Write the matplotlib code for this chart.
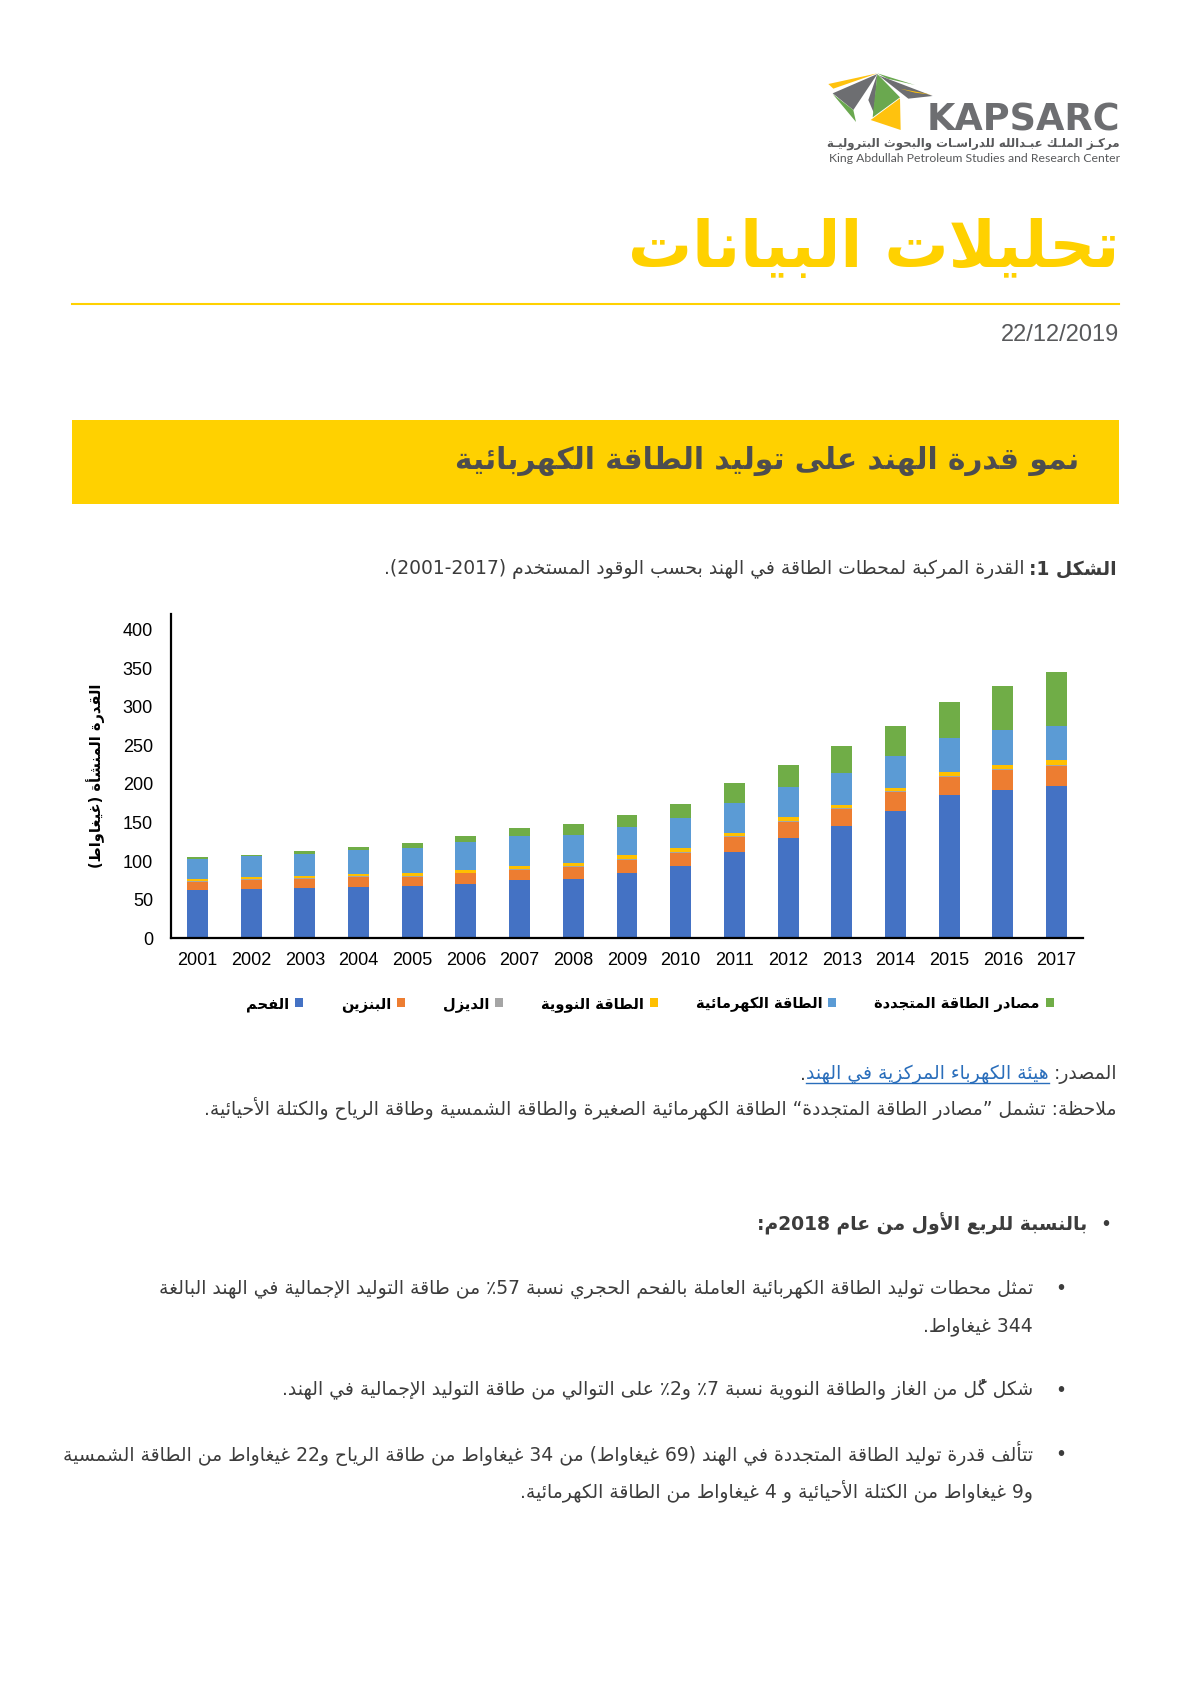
import matplotlib
matplotlib.use('Agg')
import matplotlib.pyplot as plt
from matplotlib.patches import Rectangle, Polygon
from matplotlib.lines import Line2D
import numpy as np

# ---- data (GW installed capacity, India) ----
years = ['2001', '2002', '2003', '2004', '2005', '2006', '2007', '2008', '2009',
         '2010', '2011', '2012', '2013', '2014', '2015', '2016', '2017']
coal = [62, 64, 65, 67, 68, 70, 75, 77, 84, 93, 112, 130, 145, 165, 185, 192, 197]
petrol = [11, 12, 12, 12, 12, 14, 14, 15, 18, 18, 19, 21, 22, 24, 24, 26, 26]
diesel = [1.2, 1.2, 1.2, 1.2, 1.2, 1.2, 1.2, 1.2, 1.2, 1.2, 1.2, 1.2, 1.2, 1.2, 1.0, 0.9, 0.8]
nuclear = [2.9, 2.7, 2.7, 2.7, 3.3, 3.9, 3.9, 4.1, 4.1, 4.6, 4.8, 4.8, 4.8, 4.8, 5.8, 5.8, 6.8]
hydro = [26, 26.5, 28.5, 31.5, 33, 35, 38, 37, 36.5, 38.5, 38.5, 38.5, 41, 41.5, 43.5, 44.5, 44.5]
renew = [1.6, 1.3, 3.5, 3.9, 6.5, 8.7, 10.8, 14.2, 16, 18.6, 25, 28.5, 35, 39, 46.2, 58, 70]

labels = ['الفحم', 'البنزين', 'الديزل', 'الطاقة النووية', 'الطاقة الكهرمائية', 'مصادر الطاقة المتجددة']
colors = ['#4472C4', '#ED7D31', '#A5A5A5', '#FFC000', '#5B9BD5', '#70AD47']
yticks = [0, 50, 100, 150, 200, 250, 300, 350, 400]

# ---- minimal Arabic shaping + RTL ordering (matplotlib 3.10 has no shaping) ----
AR = {
    'ء': (0xFE80, 1), 'آ': (0xFE81, 2), 'أ': (0xFE83, 2), 'ؤ': (0xFE85, 2), 'إ': (0xFE87, 2),
    'ئ': (0xFE89, 4), 'ا': (0xFE8D, 2), 'ب': (0xFE8F, 4), 'ة': (0xFE93, 2), 'ت': (0xFE95, 4),
    'ث': (0xFE99, 4), 'ج': (0xFE9D, 4), 'ح': (0xFEA1, 4), 'خ': (0xFEA5, 4), 'د': (0xFEA9, 2),
    'ذ': (0xFEAB, 2), 'ر': (0xFEAD, 2), 'ز': (0xFEAF, 2), 'س': (0xFEB1, 4), 'ش': (0xFEB5, 4),
    'ص': (0xFEB9, 4), 'ض': (0xFEBD, 4), 'ط': (0xFEC1, 4), 'ظ': (0xFEC5, 4), 'ع': (0xFEC9, 4),
    'غ': (0xFECD, 4), 'ف': (0xFED1, 4), 'ق': (0xFED5, 4), 'ك': (0xFED9, 4), 'ل': (0xFEDD, 4),
    'م': (0xFEE1, 4), 'ن': (0xFEE5, 4), 'ه': (0xFEE9, 4), 'و': (0xFEED, 2), 'ى': (0xFEEF, 2),
    'ي': (0xFEF1, 4),
}
LAM_ALEF = {'آ': 0xFEF5, 'أ': 0xFEF7, 'إ': 0xFEF9, 'ا': 0xFEFB}
TATWEEL = 'ـ'
MARKS = set(chr(c) for c in range(0x064B, 0x0653))


def dual(c):
    return c == TATWEEL or (c in AR and AR[c][1] == 4)


def joining(c):
    return c == TATWEEL or (c in AR and AR[c][1] >= 2)


def shape(s):
    n = len(s)
    out = []

    def prev_letter(i):
        j = i - 1
        while j >= 0 and s[j] in MARKS:
            j -= 1
        return s[j] if j >= 0 else None

    def next_idx(i):
        j = i + 1
        while j < n and s[j] in MARKS:
            j += 1
        return j

    i = 0
    while i < n:
        c = s[i]
        if c in AR:
            p = prev_letter(i)
            jp = p is not None and dual(p)
            j = next_idx(i)
            if c == 'ل' and j < n and s[j] in LAM_ALEF:
                out.append(chr(LAM_ALEF[s[j]] + (1 if jp else 0)))
                out.extend(s[i + 1:j])
                i = j + 1
                continue
            nx = s[j] if j < n else None
            jn = AR[c][1] == 4 and nx is not None and joining(nx)
            start, cnt = AR[c]
            if cnt == 1:
                f = start
            elif cnt == 2:
                f = start + (1 if jp else 0)
            elif jp and jn:
                f = start + 3
            elif jp:
                f = start + 1
            elif jn:
                f = start + 2
            else:
                f = start
            out.append(chr(f))
        else:
            out.append(c)
        i += 1
    return ''.join(out)


def is_ltr(c):
    return c.isascii() and c.isalnum()


def visual(s):
    s = shape(s)
    runs = []
    i = 0
    while i < len(s):
        if is_ltr(s[i]):
            j = i
            while j < len(s) and (is_ltr(s[j]) or (s[j] in '-/.,' and j + 1 < len(s) and is_ltr(s[j + 1]))):
                j += 1
            runs.append(s[i:j])
        else:
            j = i + 1
            while j < len(s) and s[j] in MARKS:
                j += 1
            tok = s[i:j]
            tok = {'(': ')', ')': '('}.get(tok, tok)
            runs.append(tok)
        i = j
    return ''.join(runs[::-1])


# ---- figure ----
W, H = 1191, 1684
fig = plt.figure(figsize=(W / 100, H / 100), dpi=100)
fig.patch.set_facecolor('white')
renderer = fig.canvas.get_renderer()


def fx(x):
    return x / W


def fy(y):
    return 1 - y / H


def put(x, y, s, size=12, width=None, rtl=True, **kw):
    kw.setdefault('ha', 'right')
    kw.setdefault('va', 'center')
    kw.setdefault('family', ['DejaVu Sans'])
    t = fig.text(fx(x), fy(y), visual(s) if rtl else s, fontsize=size, **kw)
    if width:
        w = t.get_window_extent(renderer).width
        t.set_fontsize(size * width / w)
    return t


def tw(t):
    return t.get_window_extent(renderer).width


# logo
logo = [
    ('#FFC20E', [(85, 72), (232, 40), (100, 86)]),
    ('#6D6E71', [(98, 100), (232, 42), (160, 150)]),
    ('#6AA84F', [(98, 102), (160, 150), (168, 186)]),
    ('#6D6E71', [(232, 42), (205, 120), (222, 160)]),
    ('#6AA84F', [(232, 42), (300, 112), (218, 172)]),
    ('#FFC20E', [(212, 180), (300, 115), (302, 210)]),
    ('#6AA84F', [(232, 40), (345, 75), (262, 56)]),
    ('#6D6E71', [(236, 46), (398, 108), (325, 116)]),
    ('#FFC20E', [(300, 86), (395, 104), (345, 98)]),
]
for col, pts in logo:
    fig.patches.append(Polygon([(fx(800 + a / 3), fy(60 + b / 3)) for a, b in pts],
                               closed=True, transform=fig.transFigure, color=col, lw=0))
put(1120, 120, 'KAPSARC', size=20, rtl=False, width=193, family=['DejaVu Sans'],
    fontweight='bold', color='#6D6E71')
put(1120, 143, 'مركـز الملـك عبـدالله للدراسـات والبحوث البتروليـة', size=8, width=292,
    fontweight='bold', color='#58595B')
put(1120, 158, 'King Abdullah Petroleum Studies and Research Center', size=8, rtl=False,
    width=292, family=['Lato', 'DejaVu Sans'], color='#58595B')

# page title, rule, date
put(1119, 249, 'تحليلات البيانات', size=40, width=491, fontweight='bold', color='#FFD100')
fig.lines.append(Line2D([fx(72), fx(1119)], [fy(304), fy(304)], transform=fig.transFigure,
                        color='#FFD100', lw=1.5))
put(1119, 335, '22/12/2019', size=15, rtl=False, width=118, family=['Liberation Sans'],
    color='#58595B')

# banner
fig.patches.append(Rectangle((fx(72), fy(504)), (1119 - 72) / W, (504 - 420) / H,
                             transform=fig.transFigure, color='#FFD100', lw=0))
put(1079, 461, 'نمو قدرة الهند على توليد الطاقة الكهربائية', size=20, width=623,
    fontweight='bold', color='#4D4D4F')

txt_col = '#3C3C3C'
note_txt = 'ملاحظة: تشمل ”مصادر الطاقة المتجددة“ الطاقة الكهرمائية الصغيرة والطاقة الشمسية وطاقة الرياح والكتلة الأحيائية.'
lines = [
    (1289, 'تمثل محطات توليد الطاقة الكهربائية العاملة بالفحم الحجري نسبة 57٪ من طاقة التوليد الإجمالية في الهند البالغة', True),
    (1326, '344 غيغاواط.', False),
    (1390, 'شكل كلٌّ من الغاز والطاقة النووية نسبة 7٪ و2٪ على التوالي من طاقة التوليد الإجمالية في الهند.', True),
    (1454, 'تتألف قدرة توليد الطاقة المتجددة في الهند (69 غيغاواط) من 34 غيغاواط من طاقة الرياح و22 غيغاواط من الطاقة الشمسية', True),
    (1491, 'و9 غيغاواط من الكتلة الأحيائية و 4 غيغاواط من الطاقة الكهرمائية.', False),
]

# common body size: largest size that keeps the widest lines inside their reference widths
sizes = []
for s, wref in [(note_txt, 969), (lines[0][1], 880), (lines[3][1], 963)]:
    t = put(1117, -100, s, size=12, width=wref)
    sizes.append(t.get_fontsize())
    t.remove()
body = min(sizes)

put(1117, 1109, note_txt, size=body, color=txt_col)

# caption
cap_b = put(1117, 569, 'الشكل 1:', size=body, fontweight='bold', color=txt_col)
put(1117 - tw(cap_b) - 5, 569, 'القدرة المركبة لمحطات الطاقة في الهند بحسب الوقود المستخدم (2001-2017).',
    size=body, color=txt_col)

# chart
ax = fig.add_axes([fx(171), fy(938.3), (1083 - 171) / W, (938.3 - 614) / H])
x = np.arange(len(years))
series = [coal, petrol, diesel, nuclear, hydro, renew]
bottom = np.zeros(len(years))
handles = []
for vals, col, lab in zip(series, colors, labels):
    b = ax.bar(x, vals, 0.39, bottom=bottom, color=col, label=visual(lab), lw=0)
    handles.append(b)
    bottom = bottom + np.array(vals)

ax.set_xlim(-0.494, 16.494)
ax.set_ylim(0, 420)
ax.set_yticks(yticks)
ax.set_xticks(x)
ax.set_xticklabels(years)
for s in ['top', 'right']:
    ax.spines[s].set_visible(False)
for s in ['left', 'bottom']:
    ax.spines[s].set_linewidth(1.6)
    ax.spines[s].set_color('black')
ax.tick_params(axis='y', length=0, pad=13, labelsize=13)
ax.tick_params(axis='x', length=0, pad=10, labelsize=13)
for lbl in ax.get_xticklabels() + ax.get_yticklabels():
    lbl.set_family(['Liberation Sans'])

ax.set_ylabel(visual('القدرة المنشأة (غيغاواط)'), fontsize=10.5, fontweight='bold',
              family=['DejaVu Sans'])
ax.yaxis.set_label_coords(-0.072, 0.5)

ax.legend(handles=handles, loc='center', bbox_to_anchor=(fx(650), fy(1004)),
          bbox_transform=fig.transFigure, ncol=6, frameon=False, markerfirst=False,
          handlelength=0.55, handleheight=0.55, handletextpad=0.4, columnspacing=2.6,
          prop={'family': ['DejaVu Sans'], 'size': 10.5, 'weight': 'bold'})

# source + note
src = put(1117, 1074, 'المصدر:', size=body, color=txt_col)
link = put(1117 - tw(src) - 5, 1074, 'هيئة الكهرباء المركزية في الهند', size=body, color='#2A6EBB')
lb = link.get_window_extent(renderer)
fig.lines.append(Line2D([lb.x0 / W, lb.x1 / W], [(lb.y0 + 1) / H, (lb.y0 + 1) / H],
                        transform=fig.transFigure, color='#2A6EBB', lw=1))
put(lb.x0, 1074, '.', size=body, color=txt_col)

# bullets
put(1111, 1224, '•', size=body, rtl=False, color=txt_col)
put(1087, 1224, 'بالنسبة للربع الأول من عام 2018م:', size=body, fontweight='bold', color=txt_col)

for yy, s, bullet in lines:
    if bullet:
        put(1066, yy, '•', size=body, rtl=False, color=txt_col)
    put(1033, yy, s, size=body, color=txt_col)

fig.savefig('out.png', dpi=100, facecolor='white')
